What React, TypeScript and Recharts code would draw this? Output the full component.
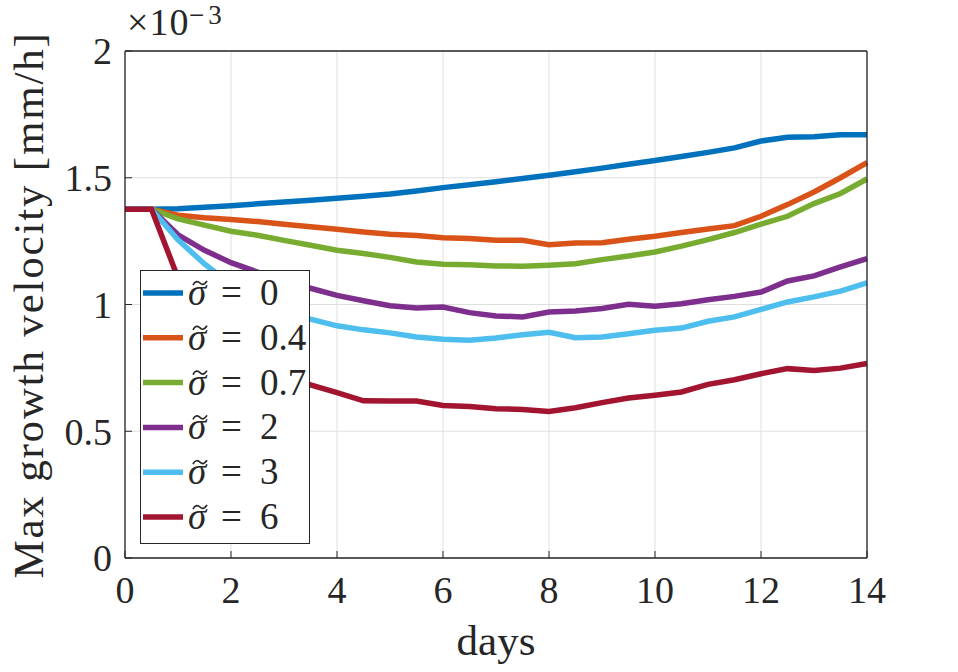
import React from 'react';
import { LineChart, Line, XAxis, YAxis, CartesianGrid, Legend } from 'recharts';

// time points (days)
const days = [0, 0.5, 1, 1.5, 2, 2.5, 3, 3.5, 4, 4.5, 5, 5.5, 6, 6.5, 7, 7.5, 8, 8.5, 9, 9.5, 10, 10.5, 11, 11.5, 12, 12.5, 13, 13.5, 14];

// max growth velocity, in units of 1e-3 mm/h
const sigma0 = [1.376, 1.376, 1.378, 1.384, 1.390, 1.397, 1.404, 1.411, 1.419, 1.427, 1.436, 1.448, 1.461, 1.472, 1.484, 1.497, 1.510, 1.524, 1.538, 1.553, 1.568, 1.584, 1.600, 1.618, 1.645, 1.660, 1.662, 1.670, 1.670];
const sigma04 = [1.376, 1.376, 1.352, 1.342, 1.335, 1.327, 1.317, 1.307, 1.297, 1.286, 1.277, 1.272, 1.263, 1.260, 1.253, 1.253, 1.236, 1.243, 1.244, 1.257, 1.269, 1.284, 1.298, 1.311, 1.348, 1.394, 1.444, 1.500, 1.560];
const sigma07 = [1.376, 1.376, 1.338, 1.313, 1.289, 1.273, 1.253, 1.234, 1.214, 1.201, 1.186, 1.168, 1.159, 1.157, 1.152, 1.151, 1.155, 1.161, 1.177, 1.191, 1.207, 1.230, 1.256, 1.284, 1.317, 1.348, 1.398, 1.438, 1.495];
const sigma2 = [1.376, 1.376, 1.275, 1.214, 1.165, 1.128, 1.092, 1.064, 1.036, 1.015, 0.995, 0.986, 0.990, 0.968, 0.955, 0.951, 0.970, 0.974, 0.984, 1.001, 0.993, 1.003, 1.019, 1.032, 1.049, 1.093, 1.113, 1.148, 1.181];
const sigma3 = [1.376, 1.376, 1.255, 1.160, 1.080, 1.020, 0.975, 0.942, 0.916, 0.900, 0.888, 0.872, 0.863, 0.859, 0.868, 0.881, 0.890, 0.869, 0.872, 0.885, 0.898, 0.907, 0.934, 0.951, 0.981, 1.010, 1.030, 1.053, 1.085];
const sigma6 = [1.376, 1.376, 1.105, 0.950, 0.845, 0.775, 0.725, 0.683, 0.652, 0.620, 0.619, 0.619, 0.602, 0.598, 0.589, 0.586, 0.578, 0.593, 0.613, 0.631, 0.642, 0.655, 0.685, 0.703, 0.727, 0.747, 0.740, 0.749, 0.767];

const seriesKeys = ['s0', 's04', 's07', 's2', 's3', 's6'];
const seriesValues = [sigma0, sigma04, sigma07, sigma2, sigma3, sigma6];
const seriesLabels = ['0', '0.4', '0.7', '2', '3', '6'];
const seriesColors = ['#0072BD', '#D95319', '#77AC30', '#7E2F8E', '#4DBEEE', '#A2142F'];

const xTicks = [0, 2, 4, 6, 8, 10, 12, 14];
const yTicks = [0, 0.5, 1, 1.5, 2];

const data = days.map((d, i) => {
  const row: Record<string, number> = { day: d };
  seriesKeys.forEach((k, j) => {
    row[k] = seriesValues[j][i];
  });
  return row;
});

const FONT = 'Liberation Serif, DejaVu Serif, serif';
const INK = '#262626';
const txt = { fontFamily: FONT, fill: INK } as React.CSSProperties;

const renderLegend = () => (
  <div
    style={{
      width: 170,
      height: 274,
      border: `1.3px solid ${INK}`,
      background: '#fff',
      boxSizing: 'border-box',
    }}
  >
    <svg width={168} height={272} style={{ display: 'block' }}>
      {seriesLabels.map((lab, i) => {
        const cy = 22 + i * 44.8;
        return (
          <g key={lab}>
            <line x1={2} x2={42} y1={cy} y2={cy} stroke={seriesColors[i]} strokeWidth={5.5} />
            <text x={47} y={cy + 12} style={{ ...txt, fontSize: 37, fontStyle: 'italic' }}>
              {'\u03C3'}
            </text>
            <path
              d={`M ${52} ${cy - 8} C ${54} ${cy - 12.5}, ${57} ${cy - 12}, ${59} ${cy - 10} S ${63} ${cy - 7.5}, ${66} ${cy - 12}`}
              fill="none"
              stroke={INK}
              strokeWidth={1.7}
            />
            <text x={80} y={cy + 12} style={{ ...txt, fontSize: 37 }}>
              =
            </text>
            <text x={119} y={cy + 12} style={{ ...txt, fontSize: 37 }}>
              {lab}
            </text>
          </g>
        );
      })}
    </svg>
  </div>
);

const yLabel = () => (
  <g>
    <text
      transform="translate(43,305) rotate(-90)"
      textAnchor="middle"
      style={{ ...txt, fontSize: 43, letterSpacing: 1.8 }}
    >
      Max growth velocity [mm/h]
    </text>
    <text x={127} y={35} style={{ ...txt, fontSize: 38, letterSpacing: 1 }}>
      ×10
    </text>
    <text x={189} y={24} style={{ ...txt, fontSize: 27, letterSpacing: 4 }}>
      −3
    </text>
  </g>
);

const xLabel = () => (
  <text x={496} y={655} textAnchor="middle" style={{ ...txt, fontSize: 43 }}>
    days
  </text>
);

export default function App() {
  return (
    <div style={{ position: 'absolute', left: 0, top: 0, width: 958, height: 672, background: '#fff' }}>
      <LineChart width={958} height={672} data={data} margin={{ top: 50, right: 90, bottom: 0, left: 0 }}>
        <CartesianGrid stroke="#dfdfdf" strokeWidth={1} />
        <XAxis
          dataKey="day"
          type="number"
          domain={[0, 14]}
          ticks={xTicks}
          interval={0}
          height={114}
          tickSize={-7}
          tickMargin={25}
          axisLine={{ stroke: INK, strokeWidth: 1.3 }}
          tickLine={{ stroke: INK, strokeWidth: 1 }}
          tick={{ fill: INK, fontSize: 38, fontFamily: FONT, style: { fontFamily: FONT } }}
          label={xLabel}
        />
        <XAxis
          xAxisId="top"
          orientation="top"
          dataKey="day"
          type="number"
          domain={[0, 14]}
          ticks={xTicks}
          interval={0}
          height={1}
          tickSize={-7}
          axisLine={{ stroke: INK, strokeWidth: 1.3 }}
          tickLine={{ stroke: INK, strokeWidth: 1 }}
          tick={false}
        />
        <YAxis
          type="number"
          domain={[0, 2]}
          ticks={yTicks}
          interval={0}
          width={125}
          tickSize={-7}
          tickMargin={20}
          axisLine={{ stroke: INK, strokeWidth: 1.3 }}
          tickLine={{ stroke: INK, strokeWidth: 1 }}
          tick={{ fill: INK, fontSize: 38, fontFamily: FONT, style: { fontFamily: FONT } }}
          label={yLabel}
        />
        <YAxis
          yAxisId="right"
          orientation="right"
          type="number"
          domain={[0, 2]}
          ticks={yTicks}
          interval={0}
          width={1}
          tickSize={-7}
          axisLine={{ stroke: INK, strokeWidth: 1.3 }}
          tickLine={{ stroke: INK, strokeWidth: 1 }}
          tick={false}
        />
        {seriesKeys.map((k, i) => (
          <Line
            key={k}
            dataKey={k}
            type="linear"
            stroke={seriesColors[i]}
            strokeWidth={5.5}
            dot={false}
            activeDot={false}
            isAnimationActive={false}
          />
        ))}
        <Legend
          content={renderLegend}
          layout="vertical"
          align="center"
          verticalAlign="middle"
          wrapperStyle={{ left: 140, top: 270, width: 170, height: 274 }}
        />
      </LineChart>
    </div>
  );
}
